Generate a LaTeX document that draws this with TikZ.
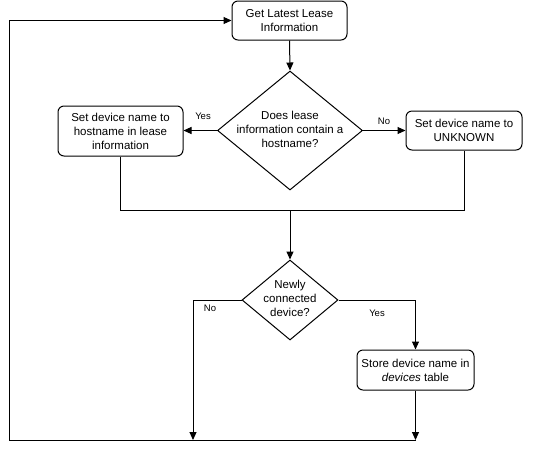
\documentclass[tikz,border=0pt]{standalone}
\usepackage{fontspec}
\setmainfont{Liberation Sans}
\usetikzlibrary{shapes.geometric,arrows.meta}
\begin{document}
\begin{tikzpicture}[x=1pt,y=-1pt,
  every node/.style={font=\fontsize{11.5}{14}\selectfont},
  proc/.style={draw,rounded corners=6pt,align=center,inner sep=0pt,line width=1pt},
  decide/.style={draw,diamond,inner sep=0pt,line width=1pt},
  lbl/.style={font=\fontsize{9.5}{11}\selectfont,inner sep=0pt},
  conn/.style={line width=1pt},
  arr/.style={line width=1pt,-{Triangle[length=8pt,width=7pt]}}]
\useasboundingbox (0,0) rectangle (540,451);
\node[proc,minimum width=115pt,minimum height=39pt] (top) at (289.5,20.5) {Get Latest Lease\\Information};
\node[decide,minimum width=145pt,minimum height=119pt] (d1) at (290,130.5) {};
\node[align=center] (d1t) at (290,129) {Does lease\\information contain a\\hostname?};
\node[proc,minimum width=125pt,minimum height=50pt] (left) at (120.5,131) {Set device name to\\hostname in lease\\information};
\node[proc,minimum width=116pt,minimum height=39pt] (right) at (464,130.5) {Set device name to\\UNKNOWN};
\node[decide,minimum width=96pt,minimum height=80pt] (d2) at (290,300) {};
\node[align=center] (d2t) at (290,298.5) {Newly\\connected\\device?};
\node[proc,minimum width=117pt,minimum height=40pt] (store) at (415.5,370) {Store device name in\\\textit{devices} table};
\coordinate (merge) at (290,210);
\coordinate (nocorner) at (193,300);
\coordinate (noend) at (193,440);
\coordinate (bl) at (9,440);
\coordinate (tl) at (9,20.5);
\node[lbl] (y1) at (203,116) {Yes};
\node[lbl] (n1) at (384,121) {No};
\node[lbl] (n2) at (210,308) {No};
\node[lbl] (y2) at (377,313) {Yes};
\draw[arr] (top.south) -- (d1.north);
\draw[arr] (d1.west) -- (d1.west -| left.east);
\draw[arr] (d1.east) -- (d1.east -| right.west);
\draw[conn] (left.south) -- (left.south |- merge) -- (right.south |- merge) -- (right.south);
\draw[arr] (merge) -- (d2.north);
\draw[arr] (d2.west) -- (nocorner) -- (noend);
\draw[arr] (d2.east) -- (d2.east -| store.north) -- (store.north);
\draw[arr] (store.south) -- (store.south |- bl);
\draw[arr] (store.south |- bl) -- (bl) -- (tl) -- (top.west);
\end{tikzpicture}
\end{document}
